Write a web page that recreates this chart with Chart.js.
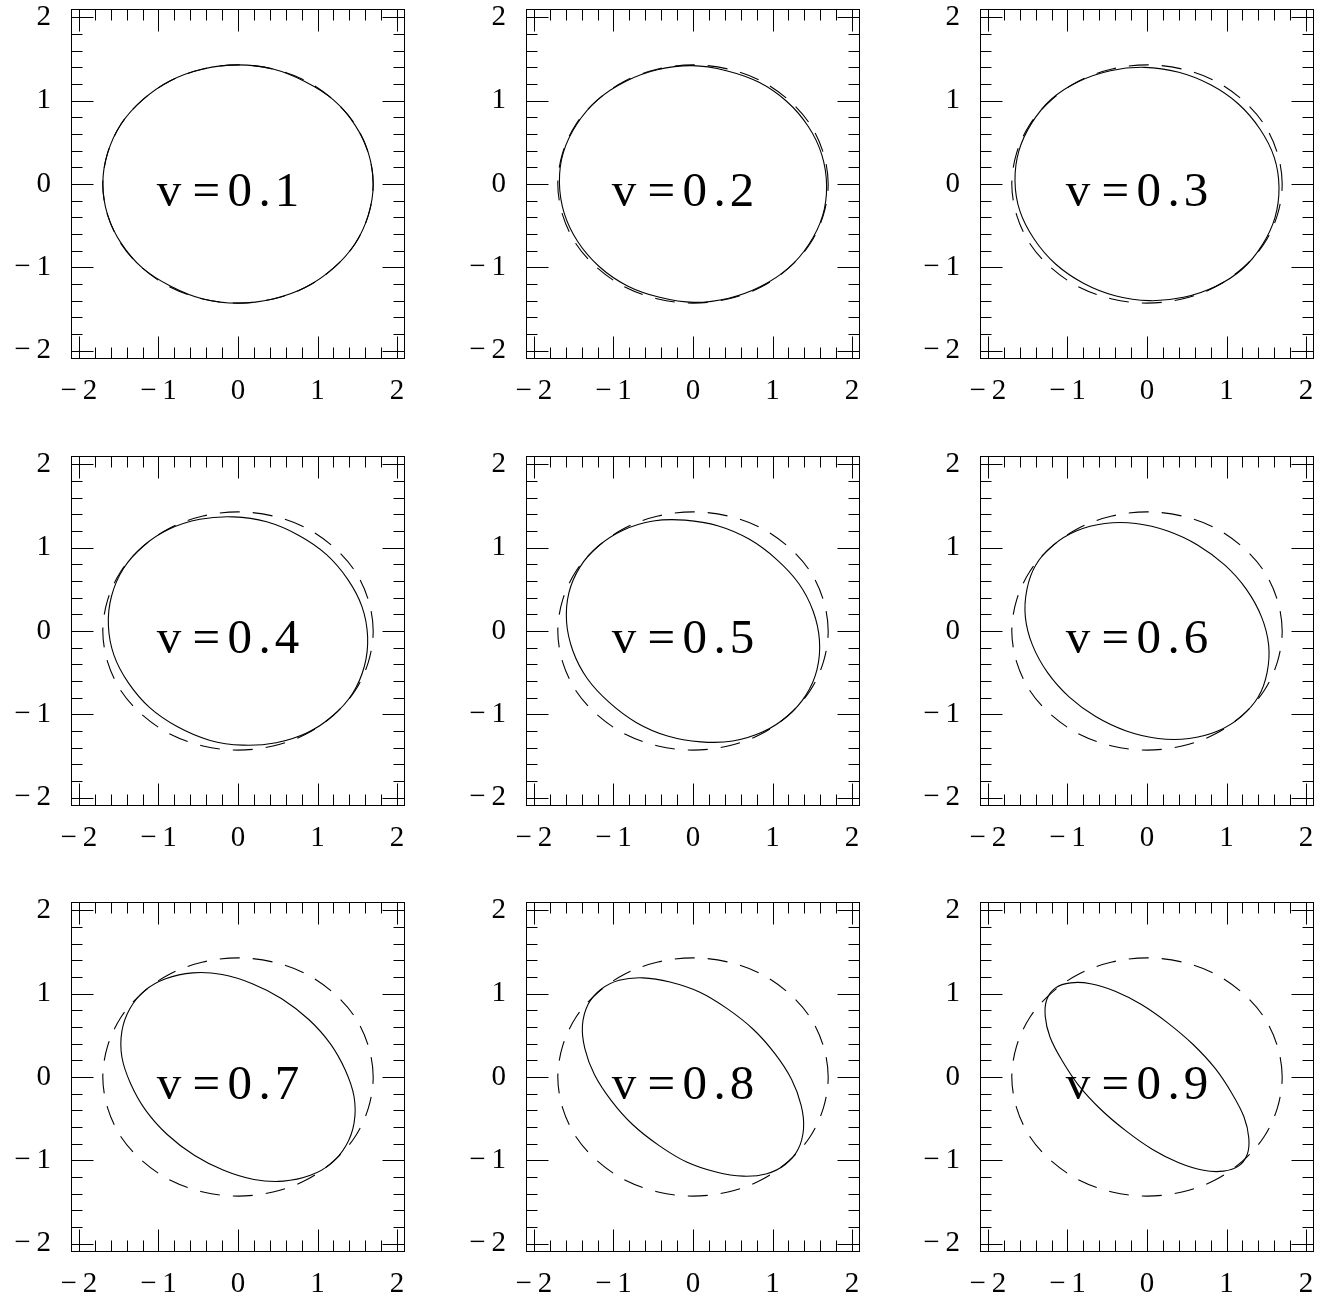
<!DOCTYPE html>
<html>
<head>
<meta charset="utf-8">
<title>Ellipse panels</title>
<script src="https://cdn.jsdelivr.net/npm/chart.js@4.4.1/dist/chart.umd.min.js"></script>
<style>
  html, body { margin: 0; padding: 0; background: #fff; overflow: hidden; }
  #grid { position: relative; width: 1335px; height: 1301px; }
  #grid canvas { position: absolute; }
</style>
</head>
<body>
<div id="grid"></div>
<script>
// panel labels
const panelLabels = ['v=0.1', 'v=0.2', 'v=0.3', 'v=0.4', 'v=0.5', 'v=0.6', 'v=0.7', 'v=0.8', 'v=0.9'];

// dashed reference ellipse, the same in every panel (closed loop, 24 points)
const dashX = [1.70, 1.64, 1.47, 1.20, 0.85, 0.44, 0.00, -0.44, -0.85, -1.20, -1.47, -1.64,
               -1.70, -1.64, -1.47, -1.20, -0.85, -0.44, 0.00, 0.44, 0.85, 1.20, 1.47, 1.64];
const dashY = [0.00, 0.37, 0.72, 1.01, 1.24, 1.38, 1.43, 1.38, 1.24, 1.01, 0.72, 0.37,
               0.00, -0.37, -0.72, -1.01, -1.24, -1.38, -1.43, -1.38, -1.24, -1.01, -0.72, -0.37];

// solid ellipse, one row per panel (v = 0.1 ... 0.9)
const solidX = [
  [1.70, 1.64, 1.47, 1.20, 0.84, 0.44, 0.00, -0.44, -0.85, -1.20, -1.47, -1.64, -1.70, -1.64, -1.47, -1.20, -0.84, -0.44, 0.00, 0.44, 0.85, 1.20, 1.47, 1.64],
  [1.68, 1.62, 1.45, 1.18, 0.83, 0.42, -0.01, -0.45, -0.85, -1.20, -1.46, -1.63, -1.68, -1.62, -1.45, -1.18, -0.83, -0.42, 0.01, 0.45, 0.85, 1.20, 1.46, 1.63],
  [1.66, 1.60, 1.42, 1.15, 0.80, 0.40, -0.03, -0.46, -0.86, -1.20, -1.45, -1.61, -1.66, -1.60, -1.42, -1.15, -0.80, -0.40, 0.03, 0.46, 0.86, 1.20, 1.45, 1.61],
  [1.63, 1.56, 1.38, 1.11, 0.76, 0.36, -0.06, -0.48, -0.87, -1.19, -1.44, -1.59, -1.63, -1.56, -1.38, -1.11, -0.76, -0.36, 0.06, 0.48, 0.87, 1.19, 1.44, 1.59],
  [1.59, 1.51, 1.33, 1.05, 0.71, 0.32, -0.10, -0.50, -0.88, -1.19, -1.42, -1.56, -1.59, -1.51, -1.33, -1.05, -0.71, -0.32, 0.10, 0.50, 0.88, 1.19, 1.42, 1.56],
  [1.53, 1.44, 1.25, 0.98, 0.64, 0.26, -0.14, -0.53, -0.89, -1.18, -1.40, -1.51, -1.53, -1.44, -1.25, -0.98, -0.64, -0.26, 0.14, 0.53, 0.89, 1.18, 1.40, 1.51],
  [1.46, 1.35, 1.16, 0.89, 0.55, 0.18, -0.20, -0.57, -0.91, -1.17, -1.36, -1.46, -1.46, -1.35, -1.16, -0.89, -0.55, -0.18, 0.20, 0.57, 0.91, 1.17, 1.36, 1.46],
  [1.36, 1.24, 1.03, 0.76, 0.43, 0.08, -0.29, -0.63, -0.93, -1.16, -1.32, -1.39, -1.36, -1.24, -1.03, -0.76, -0.43, -0.08, 0.29, 0.63, 0.93, 1.16, 1.32, 1.39],
  [1.22, 1.07, 0.86, 0.58, 0.26, -0.07, -0.40, -0.71, -0.96, -1.15, -1.26, -1.28, -1.22, -1.07, -0.86, -0.58, -0.26, 0.07, 0.40, 0.71, 0.96, 1.15, 1.26, 1.28]
];
const solidY = [
  [0.00, 0.37, 0.71, 1.01, 1.23, 1.38, 1.43, 1.38, 1.24, 1.01, 0.72, 0.37, 0.00, -0.37, -0.71, -1.01, -1.23, -1.38, -1.43, -1.38, -1.24, -1.01, -0.72, -0.37],
  [-0.02, 0.35, 0.69, 0.99, 1.22, 1.36, 1.42, 1.37, 1.23, 1.01, 0.72, 0.38, 0.02, -0.35, -0.69, -0.99, -1.22, -1.36, -1.42, -1.37, -1.23, -1.01, -0.72, -0.38],
  [-0.04, 0.32, 0.66, 0.96, 1.19, 1.34, 1.40, 1.36, 1.23, 1.02, 0.73, 0.40, 0.04, -0.32, -0.66, -0.96, -1.19, -1.34, -1.40, -1.36, -1.23, -1.02, -0.73, -0.40],
  [-0.07, 0.29, 0.62, 0.92, 1.15, 1.31, 1.37, 1.34, 1.22, 1.02, 0.75, 0.42, 0.07, -0.29, -0.62, -0.92, -1.15, -1.31, -1.37, -1.34, -1.22, -1.02, -0.75, -0.42],
  [-0.11, 0.24, 0.57, 0.86, 1.10, 1.26, 1.33, 1.32, 1.21, 1.02, 0.77, 0.46, 0.11, -0.24, -0.57, -0.86, -1.10, -1.26, -1.33, -1.32, -1.21, -1.02, -0.77, -0.46],
  [-0.17, 0.17, 0.50, 0.79, 1.03, 1.20, 1.29, 1.29, 1.20, 1.03, 0.79, 0.50, 0.17, -0.17, -0.50, -0.79, -1.03, -1.20, -1.29, -1.29, -1.20, -1.03, -0.79, -0.50],
  [-0.24, 0.08, 0.40, 0.69, 0.94, 1.12, 1.23, 1.25, 1.18, 1.04, 0.82, 0.55, 0.24, -0.08, -0.40, -0.69, -0.94, -1.12, -1.23, -1.25, -1.18, -1.04, -0.82, -0.55],
  [-0.34, -0.03, 0.28, 0.57, 0.82, 1.02, 1.14, 1.19, 1.16, 1.05, 0.87, 0.62, 0.34, 0.03, -0.28, -0.57, -0.82, -1.02, -1.14, -1.19, -1.16, -1.05, -0.87, -0.62],
  [-0.48, -0.20, 0.10, 0.39, 0.65, 0.87, 1.03, 1.12, 1.13, 1.07, 0.93, 0.73, 0.48, 0.20, -0.10, -0.39, -0.65, -0.87, -1.03, -1.12, -1.13, -1.07, -0.93, -0.73]
];

// axis range and minor tick step
const axisMin = -2.1, axisMax = 2.1;
const minorStep = 0.2;

Chart.defaults.font.family = "'Liberation Serif', 'DejaVu Serif', serif";
Chart.defaults.color = '#000';

function toPoints(xs, ys) {
    return xs.map((x, j) => ({ x: x, y: ys[j] }));
}

// make each line a closed, smooth loop (same flags the radar chart uses)
const loopPlugin = {
    id: 'loop',
    beforeDatasetsDraw(chart) {
        chart.data.datasets.forEach((ds, i) => {
            const line = chart.getDatasetMeta(i).dataset;
            if (!line) return;
            line._loop = true;
            line._fullLoop = true;
            line._pointsUpdated = false;
            delete line._segments;
            delete line._path;
            line.updateControlPoints(chart.chartArea, 'x');
        });
    }
};

// frame with inward ticks on all four sides, plus the "v=..." label
const framePlugin = {
    id: 'frame',
    afterDraw(chart, args, opts) {
        const ctx = chart.ctx;
        const a = chart.chartArea;
        const xs = chart.scales.x, ys = chart.scales.y;
        const L = Math.round(a.left) + 0.5, R = Math.round(a.right) - 0.5;
        const T = Math.round(a.top) + 0.5, B = Math.round(a.bottom) - 0.5;
        ctx.save();
        ctx.strokeStyle = '#000';
        ctx.lineWidth = 1;
        ctx.strokeRect(L, T, R - L, B - T);
        ctx.beginPath();
        const n = Math.round(2 / minorStep);
        for (let k = -n; k <= n; k++) {
            const v = k * minorStep;
            const len = (k % 5 === 0) ? 22 : 11;
            const px = Math.round(xs.getPixelForValue(v)) + 0.5;
            ctx.moveTo(px, B); ctx.lineTo(px, B - len);
            ctx.moveTo(px, T); ctx.lineTo(px, T + len);
            const py = Math.round(ys.getPixelForValue(v)) + 0.5;
            ctx.moveTo(L, py); ctx.lineTo(L + len, py);
            ctx.moveTo(R, py); ctx.lineTo(R - len, py);
        }
        ctx.stroke();

        // panel label, drawn glyph by glyph to get the wide spacing
        const offsets = [8.3, 45.8, 79.2, 104, 126.3];
        const x0 = xs.getPixelForValue(0) - 77.4;
        const base = ys.getPixelForValue(0) + 22;
        ctx.fillStyle = '#000';
        ctx.font = "49px 'Liberation Serif', serif";
        ctx.textAlign = 'center';
        ctx.textBaseline = 'alphabetic';
        [...opts.label].forEach((ch, j) => {
            ctx.fillText(ch, x0 + offsets[j], base);
        });
        ctx.restore();
    }
};

const grid = document.getElementById('grid');
const tickFormat = (value) => (value < 0 ? '\u2212\u2009' + Math.abs(value) : String(value));

panelLabels.forEach((label, i) => {
    const col = i % 3, row = Math.floor(i / 3);
    const cv = document.createElement('canvas');
    cv.width = 420;
    cv.height = 405;
    cv.style.left = Math.round(col * 454.6) + 'px';
    cv.style.top = Math.round(row * 446.7) + 'px';
    grid.appendChild(cv);

    new Chart(cv, {
        type: 'scatter',
        data: {
            datasets: [{
                label: 'solid',
                data: toPoints(solidX[i], solidY[i]),
                showLine: true,
                borderColor: '#000',
                borderWidth: 1.1,
                pointRadius: 0,
                tension: 0.33,
                fill: false
            }, {
                label: 'dashed',
                data: toPoints(dashX, dashY),
                showLine: true,
                borderColor: '#000',
                borderWidth: 1.1,
                borderDash: [20, 13],
                pointRadius: 0,
                tension: 0.33,
                fill: false
            }]
        },
        options: {
            responsive: false,
            animation: false,
            devicePixelRatio: 1,
            events: [],
            layout: { padding: { top: 9, right: 15, left: 0, bottom: 0 } },
            scales: {
                x: {
                    type: 'linear',
                    min: axisMin,
                    max: axisMax,
                    grid: { display: false, drawTicks: false },
                    border: { display: false },
                    ticks: {
                        stepSize: 1,
                        includeBounds: false,
                        padding: 15,
                        font: { size: 29 },
                        maxRotation: 0,
                        callback: tickFormat
                    },
                    afterFit: (s) => {
                        s.height = 46;
                        s.paddingLeft = 0; s.paddingRight = 0;
                    }
                },
                y: {
                    type: 'linear',
                    min: axisMin,
                    max: axisMax,
                    grid: { display: false, drawTicks: false },
                    border: { display: false },
                    ticks: {
                        stepSize: 1,
                        includeBounds: false,
                        padding: 20,
                        font: { size: 29 },
                        callback: tickFormat
                    },
                    afterFit: (s) => {
                        s.width = 71;
                        s.paddingTop = 0; s.paddingBottom = 0;
                    }
                }
            },
            plugins: {
                legend: { display: false },
                tooltip: { enabled: false },
                frame: { label: label }
            }
        },
        plugins: [loopPlugin, framePlugin]
    });
});
</script>
</body>
</html>
